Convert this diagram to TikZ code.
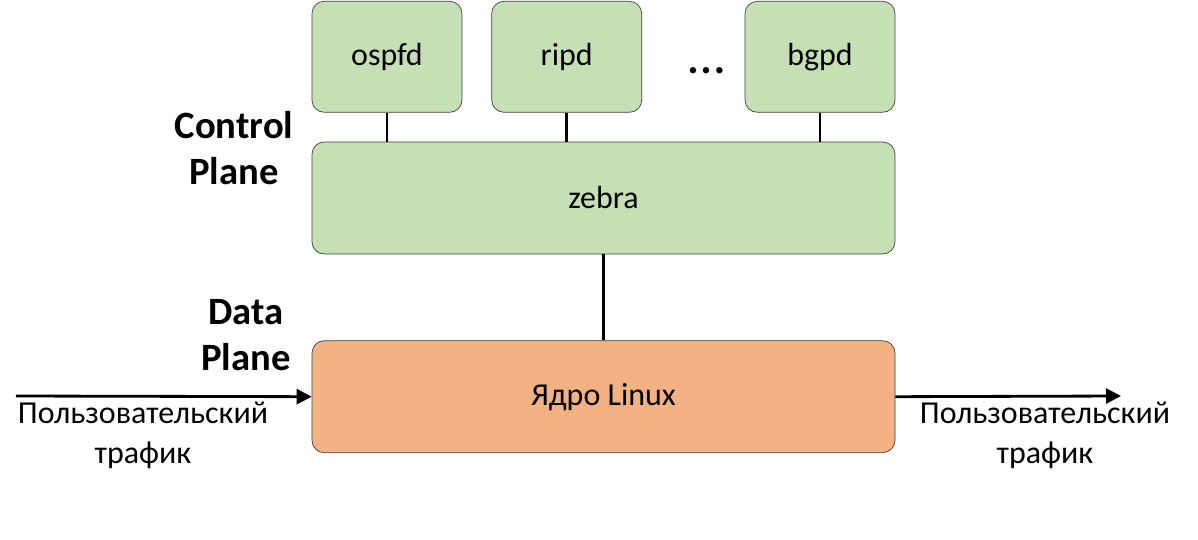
\documentclass[tikz,border=0pt]{standalone}
\usepackage{fontspec}
\setmainfont{Carlito}
\usepackage{xcolor}
\usetikzlibrary{arrows.meta, positioning}
\definecolor{ctrlgreen}{HTML}{C5E0B4}
\definecolor{kernorange}{HTML}{F4B183}
\definecolor{edgegrey}{HTML}{404040}

\begin{document}
\begin{tikzpicture}[font=\fontsize{18.2}{22.7}\selectfont,
      daemon/.style={draw=edgegrey, rounded corners=7pt, fill=ctrlgreen,
                     minimum width=3.0cm, minimum height=2.22cm, align=center},
      plane/.style={draw=edgegrey, rounded corners=7pt,
                    minimum width=11.66cm, minimum height=2.24cm, align=center},
      link/.style={line width=1.6pt},
      flow/.style={line width=1.6pt, -{Triangle[length=0.3cm, width=0.3cm]}},
      tag/.style={font=\fontsize{22}{26.6}\selectfont\bfseries, align=center},
      traffic/.style={align=center}]
    \useasboundingbox (0,0) rectangle (23.96,-10.8);
    \node[plane, fill=ctrlgreen]  (zebra) at (12.07,-3.96) {zebra};
    \node[plane, fill=kernorange, below=1.72cm of zebra] (linux) {Ядро Linux};
    \node[daemon, above right=0.58cm and 0cm of zebra.north west] (ospfd) {ospfd};
    \node[daemon, right=0.58cm of ospfd] (ripd) {ripd};
    \node[daemon, above left=0.58cm and 0cm of zebra.north east] (bgpd) {bgpd};
    \node[anchor=base] (dots) at (14.14,-1.48) {\fontsize{30}{34}\selectfont\dots};
    \node[tag] (ctrl) at (4.68,-2.96) {Control\\Plane};
    \node[tag] (data) at (4.92,-6.7) {Data\\Plane};
    \coordinate (src) at (0.32,-7.92);
    \coordinate (dst) at (22.42,-7.92);
    \node[traffic] (inlbl)  at (2.86,-8.7) {Пользовательский\\трафик};
    \node[traffic] (outlbl) at (20.9,-8.7) {Пользовательский\\трафик};
    % daemons talk to zebra, zebra to the kernel
    \draw[link] (ospfd.south) -- (ospfd.south |- zebra.north);
    \draw[link] (ripd.south) -- (ripd.south |- zebra.north);
    \draw[link] (bgpd.south) -- (bgpd.south |- zebra.north);
    \draw[link] (zebra.south) -- (linux.north);
    \draw[flow] (src) -- (linux.west);
    \draw[flow] (linux.east) -- (dst);
  \end{tikzpicture}
\end{document}
